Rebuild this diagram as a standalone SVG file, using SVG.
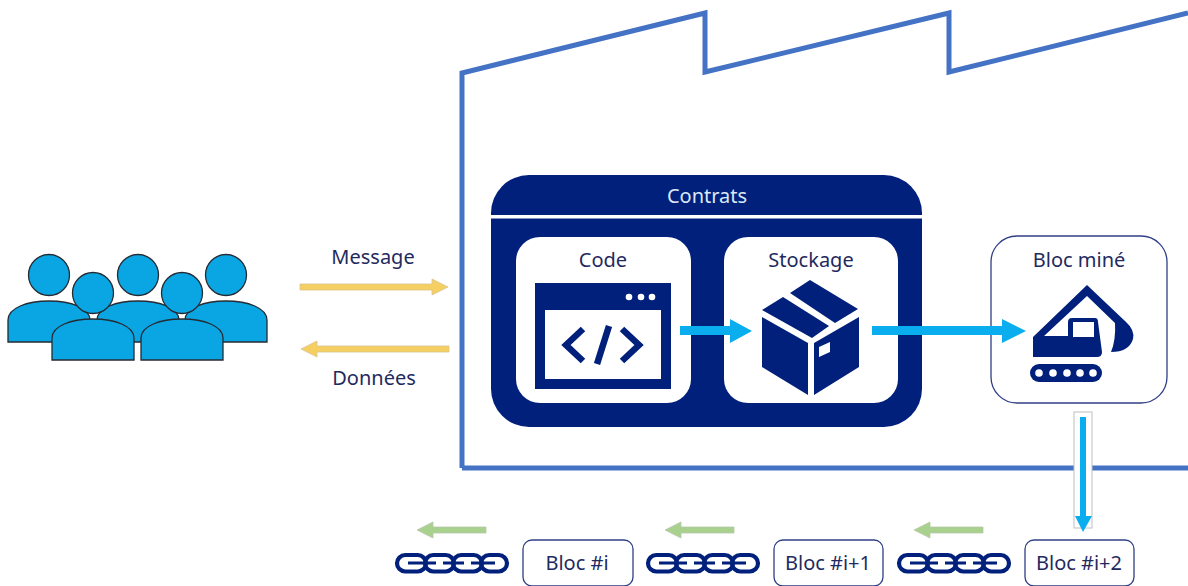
<svg xmlns="http://www.w3.org/2000/svg" width="1188" height="586" viewBox="0 0 1188 586">
<style>
text{font-family:"Noto Sans","Open Sans","Liberation Sans",sans-serif;font-size:20px;fill:#1f2a5e;text-anchor:middle}
.p{fill:#0aa6e4;stroke:#262b33;stroke-width:1.3}
.navy{fill:#00207c}
.box{fill:#fff;stroke:#2f3f86;stroke-width:1.3}
.y{fill:#f6cf63;stroke:#d9c48a;stroke-width:.8}
.g{fill:#a9d18e;stroke:#b8c7a8;stroke-width:.8}
.b{fill:#0aaeef}
.link{fill:none;stroke:#00207c;stroke-width:4.200}
.bar{fill:none;stroke:#00207c;stroke-width:3}
</style>
<defs>
<g id="person">
<circle class="p" cx="0" cy="21" r="20.500"/>
<path class="p" d="M-41 88V66C-41 54-22 47 0 47S41 54 41 66V88Z"/>
</g>
<g id="chain">
<rect class="link" x="3" y="-8" width="29" height="16.500" rx="8.250"/>
<rect class="link" x="31" y="-8" width="29" height="16.500" rx="8.250"/>
<rect class="link" x="59" y="-8" width="29" height="16.500" rx="8.250"/>
<rect class="link" x="87" y="-8" width="26" height="16.500" rx="8.250"/>
<path class="bar" d="M14 0H31M31 0H42M49 0H60M60 0H70M77 0H88M88 0H101"/>
</g>
<g id="green"><path class="g" d="M0 0L16 -8V-3H69V3H16V8Z"/></g>
</defs>

<g id="factory"><path d="M462 468V73L705 13V72L949 13V72L1188 13M462 468H1188" fill="none" stroke="#4472c4" stroke-width="5"/></g>

<g id="users">
<use href="#person" x="49" y="254"/>
<use href="#person" x="138" y="254"/>
<use href="#person" x="226" y="254"/>
<use href="#person" x="93" y="272"/>
<use href="#person" x="182" y="272"/>
</g>

<g id="contrats">
<rect class="navy" x="491" y="175" width="431" height="252" rx="38"/>
<rect x="491" y="215" width="431" height="3.500" fill="#fff"/>
<text x="707" y="203" style="fill:#dbe8f7">Contrats</text>
</g>

<g id="code">
<rect x="516" y="237" width="175" height="166" rx="24" fill="#fff"/>
<text x="603" y="267">Code</text>
<rect class="navy" x="535" y="283" width="136" height="106"/>
<rect x="545" y="310" width="116" height="69" fill="#fff"/>
<circle cx="629" cy="297" r="3.300" fill="#fff"/><circle cx="641" cy="297" r="3.300" fill="#fff"/><circle cx="652" cy="297" r="3.300" fill="#fff"/>
<path d="M583 329L566 345L583 361M622 329L639 345L622 361M609 326L597 364" fill="none" stroke="#00207c" stroke-width="6.500"/>
</g>

<g id="stockage">
<rect x="724" y="237" width="174" height="166" rx="24" fill="#fff"/>
<text x="811" y="267">Stockage</text>
<path class="navy" d="M762 310L783 297L829 326L812 338Z"/>
<path class="navy" d="M790 293L810 280L858 309L835 323Z"/>
<path class="navy" d="M762 317L808 343V395L762 367Z"/>
<path class="navy" d="M814 343L859 317V367L814 395ZM819 347V357L830 352V342Z" fill-rule="evenodd"/>
</g>

<g id="bloc-mine">
<rect class="box" x="991" y="236" width="176" height="167" rx="26"/>
<text x="1079" y="267">Bloc miné</text>
<path class="navy" d="M1033 337L1087 285L1126 322L1116 324L1087 296L1044 336H1068V322Q1068 318 1072 318H1095Q1098 318 1098 322L1102 352Q1102 357 1097 357H1033ZM1073 322V337H1094V322Z" fill-rule="evenodd"/>
<path class="navy" d="M1117 320L1126 322Q1135 330 1133 339Q1129 352 1111 352Q1116 340 1115 322Z"/>
<rect class="navy" x="1030" y="364" width="72" height="18" rx="9"/>
<g fill="#fff"><circle cx="1039" cy="373" r="3.800"/><circle cx="1053" cy="373" r="3.800"/><circle cx="1067" cy="373" r="3.800"/><circle cx="1080" cy="373" r="3.800"/><circle cx="1093" cy="373" r="3.800"/></g>
</g>

<g id="blocs">
<g id="bloc-i"><rect class="box" x="523" y="540" width="110" height="46" rx="9"/><text x="577" y="570">Bloc #i</text></g>
<g id="bloc-i1"><rect class="box" x="774" y="540" width="109" height="46" rx="9"/><text x="828" y="570">Bloc #i+1</text></g>
<g id="bloc-i2"><rect class="box" x="1025" y="540" width="109" height="46" rx="9"/><text x="1079" y="570">Bloc #i+2</text></g>
</g>
<g id="chains">
<use href="#chain" x="394" y="563"/>
<use href="#chain" x="645" y="563"/>
<use href="#chain" x="896" y="563"/>
</g>

<g id="connectors">
<path class="y" d="M300 284H432V279L448 287L432 295V290H300Z"/>
<path class="y" d="M449 346H317V341L301 349L317 357V352H449Z"/>
<path class="b" d="M680 326H730V319L752 331L730 343V335H680Z"/>
<path class="b" d="M872 326H1002V319L1026 331L1002 343V335H872Z"/>
<rect x="1074" y="412" width="18" height="116" fill="#fff" stroke="#bfbfbf" stroke-width="1"/>
<path class="b" d="M1080 417H1086V516H1092L1083 532L1075 516H1080Z"/>
<use href="#green" x="417" y="530"/>
<use href="#green" x="665" y="530"/>
<use href="#green" x="914" y="530"/>
</g>

<g id="labels">
<text x="373" y="264">Message</text>
<text x="374" y="385">Données</text>
</g>
</svg>
